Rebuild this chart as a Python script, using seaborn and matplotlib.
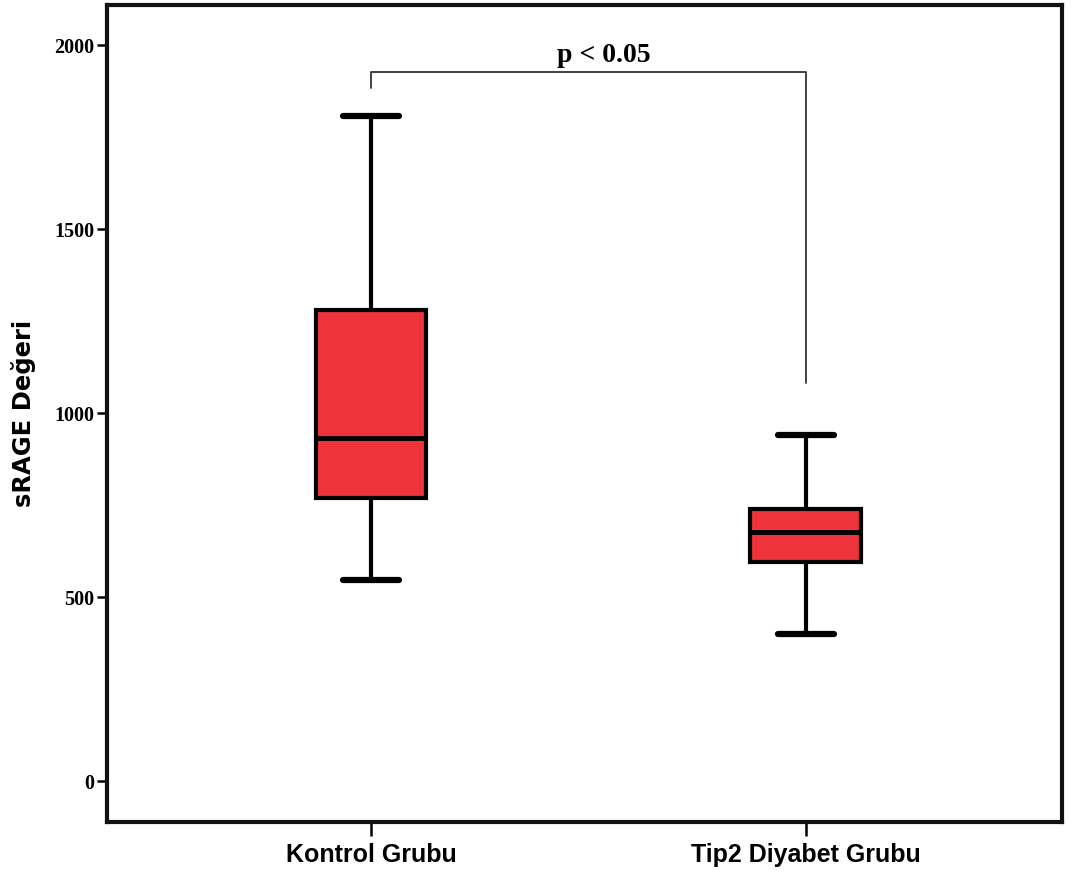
import matplotlib
matplotlib.use("Agg")
import matplotlib.pyplot as plt
import seaborn as sns
import pandas as pd

# Five-number summaries (min, Q1, median, Q3, max) for each group
groups = ["Kontrol Grubu", "Tip2 Diyabet Grubu"]
kontrol = [546, 769, 932, 1280, 1807]
diyabet = [399, 595, 677, 739, 940]
y_ticks = [0, 500, 1000, 1500, 2000]
p_label = "p < 0.05"

df = pd.DataFrame({
    "grup": [groups[0]] * len(kontrol) + [groups[1]] * len(diyabet),
    "deger": kontrol + diyabet,
})

sns.set_style("white")
plt.rcParams.update({"text.color": "black", "axes.labelcolor": "black",
                     "xtick.color": "black", "ytick.color": "black"})
fig = plt.figure(figsize=(10.76, 8.77), dpi=100)
ax = fig.add_axes([107 / 1076, 55 / 877, 955 / 1076, 817 / 877])

sns.boxplot(
    data=df, x="grup", y="deger", order=groups, ax=ax,
    color="#EF333A", saturation=1, width=0.255, whis=float("inf"),
    linecolor="black", linewidth=3,
    capprops=dict(linewidth=4.5),
    medianprops=dict(linewidth=3.5),
)

ax.set_xlim(-0.607, 1.589)
ax.set_ylim(-111, 2109)
ax.set_yticks(y_ticks)
ax.set_yticklabels([str(t) for t in y_ticks], family="Liberation Serif",
                   fontweight="bold", fontsize=14.5, color="black")
ax.set_xticks([0, 1])
ax.set_xticklabels(groups, family="Liberation Sans", fontweight="bold",
                   fontsize=18, color="black")
ax.tick_params(axis="y", length=7, width=1.8, direction="out", pad=2, left=True,
               colors="black")
ax.tick_params(axis="x", length=10, width=1.8, direction="out", pad=5, bottom=True,
               colors="black")
ax.set_xlabel("")
ax.set_ylabel("sRAGE Değeri", family="DejaVu Sans", fontweight="bold",
              fontsize=17.5, labelpad=13, color="black")

for side in ["left", "right", "top", "bottom"]:
    ax.spines[side].set_visible(True)
    ax.spines[side].set_linewidth(3)
    ax.spines[side].set_color("#111111")

# Significance bracket between the two groups
ax.plot([0, 0, 1, 1], [1883, 1927, 1927, 1082], color="#333333", linewidth=1.3)
ax.text(0.535, 1973, p_label, ha="center", va="center", family="Liberation Serif",
        fontweight="bold", fontsize=20, color="black")

fig.savefig("out.png", dpi=100)
